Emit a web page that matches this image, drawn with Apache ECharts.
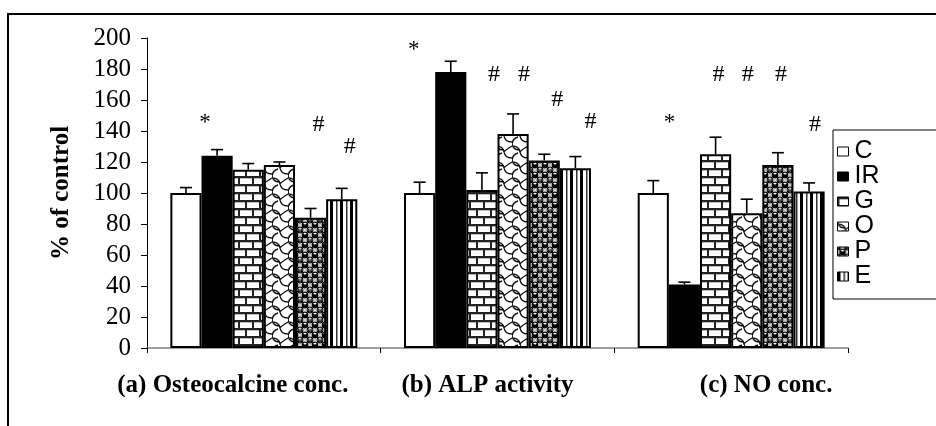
<!DOCTYPE html>
<html>
<head>
<meta charset="utf-8">
<script src="https://cdn.jsdelivr.net/npm/echarts@6/dist/echarts.min.js"></script>
<style>
html,body{margin:0;padding:0;background:#fff;}
#chart{width:936px;height:426px;}
</style>
</head>
<body>
<div id="chart"></div>
<script>
// ---- data ----
const categories = ['(a) Osteocalcine conc.', '(b) ALP activity', '(c) NO conc.'];
const seriesNames = ['C', 'IR', 'G', 'O', 'P', 'E'];
const valC  = [100, 100, 100];
const valIR = [124, 178, 41];
const valG  = [115, 102, 125];
const valO  = [118, 138, 87];
const valP  = [84, 121, 118];
const valE  = [96, 116, 101];
const errC  = [3.5, 7, 8];
const errIR = [4, 7, 1.5];
const errG  = [4, 11, 11];
const errO  = [2, 13, 9];
const errP  = [6, 4, 8];
const errE  = [7, 7.5, 5.5];
// significance signs and the value height at which each sign sits
const signC  = ['', '', ''];
const signIR = ['*', '*', '*'];
const signG  = ['', '#', '#'];
const signO  = ['', '#', '#'];
const signP  = ['#', '#', '#'];
const signE  = ['#', '#', '#'];
const signAtC  = [0, 0, 0];
const signAtIR = [145, 192, 145];
const signAtG  = [0, 176, 176];
const signAtO  = [0, 176, 176];
const signAtP  = [144, 160, 176];
const signAtE  = [130, 146, 144];
const yTicks = { min: 0, max: 200, step: 20 };

const values = [valC, valIR, valG, valO, valP, valE];
const errors = [errC, errIR, errG, errO, errP, errE];
const signs = [signC, signIR, signG, signO, signP, signE];
const signAt = [signAtC, signAtIR, signAtG, signAtO, signAtP, signAtE];

// ---- styling (layout nudges for sign labels, px) ----
const signDx = [[0,0,0], [-12,-37,-15], [0,12,3], [0,11,1], [8,13,3], [8,15,6]];

function tile(w, h, draw) {
  const c = document.createElement('canvas');
  c.width = w; c.height = h;
  const g = c.getContext('2d');
  g.fillStyle = '#fff'; g.fillRect(0, 0, w, h);
  draw(g);
  return c;
}
const brick = tile(14, 16, g => {
  g.fillStyle = '#222';
  g.fillRect(0, 0, 14, 2); g.fillRect(0, 8, 14, 2);
  g.fillRect(0, 0, 2, 8); g.fillRect(7, 8, 2, 8);
  g.fillStyle = '#bbb';
  g.fillRect(2, 2, 12, 1); g.fillRect(0, 10, 7, 1); g.fillRect(9, 10, 5, 1);
});
const scale = tile(16, 16, g => {
  g.strokeStyle = '#111'; g.lineWidth = 1.4;
  g.beginPath();
  g.moveTo(0, 2); g.quadraticCurveTo(7, 2, 8, 8); g.quadraticCurveTo(9, 14, 16, 14);
  g.moveTo(8, -6); g.quadraticCurveTo(15, -6, 16, 0);
  g.moveTo(0, 0); g.quadraticCurveTo(1, 6, 8, 6);
  g.moveTo(8, 8); g.quadraticCurveTo(9, 6, 16, 2);
  g.moveTo(0, 16); g.quadraticCurveTo(1, 10, 6, 9);
  g.stroke();
});
const dots = tile(10, 10, g => {
  g.fillStyle = '#000';
  [[5,5],[0,0],[10,0],[0,10],[10,10]].forEach(p => { g.beginPath(); g.arc(p[0], p[1], 3.4, 0, Math.PI*2); g.fill(); });
  g.fillStyle = '#fff';
  [[5,3.6],[0,-1.4],[10,-1.4],[0,8.6],[10,8.6]].forEach(p => { g.beginPath(); g.ellipse(p[0], p[1], 1.6, 0.9, 0, 0, Math.PI*2); g.fill(); });
  g.strokeStyle = '#888'; g.lineWidth = 0.8;
  g.strokeRect(0, 0, 10, 10);
});
const stripes = tile(10, 2, g => {
  g.fillStyle = '#000'; g.fillRect(0, 0, 3, 2);
  g.fillStyle = '#333'; g.fillRect(6, 0, 1.5, 2);
});
const fills = [
  '#ffffff',
  '#000000',
  { image: brick, repeat: 'repeat' },
  { image: scale, repeat: 'repeat' },
  { image: dots, repeat: 'repeat' },
  { image: stripes, repeat: 'repeat' }
];

const barSeries = seriesNames.map((n, s) => ({
  name: n,
  type: 'bar',
  data: values[s],
  barGap: '0%',
  barCategoryGap: '20%',
  itemStyle: { color: fills[s], borderColor: '#000', borderWidth: 2 },
  emphasis: { disabled: true },
  z: 2
}));

const errRows = [];
for (let s = 0; s < seriesNames.length; s++) {
  for (let i = 0; i < categories.length; i++) {
    errRows.push([i, s, values[s][i], errors[s][i], signAt[s][i]]);
  }
}

const errSeries = {
  type: 'custom',
  name: 'err',
  data: errRows,
  encode: { x: 0, y: 2 },
  z: 5,
  silent: true,
  renderItem: function (params, api) {
    const i = api.value(0), s = api.value(1), v = api.value(2), e = api.value(3), h = api.value(4);
    const band = api.size([1, 0])[0];
    const bw = band * 0.8 / 6;
    const cx = api.coord([i, 0])[0] - band * 0.4 + (s + 0.5) * bw;
    const y0 = api.coord([i, v])[1];
    const y1 = api.coord([i, v + e])[1];
    const st = { stroke: '#000', lineWidth: 1.6 };
    const children = [
      { type: 'line', shape: { x1: cx, y1: y0, x2: cx, y2: y1 }, style: st },
      { type: 'line', shape: { x1: cx - 6, y1: y1, x2: cx + 6, y2: y1 }, style: st }
    ];
    const sign = signs[s][i];
    if (sign) {
      const ty = api.coord([i, h])[1];
      children.push({
        type: 'text', x: cx + signDx[s][i], y: ty,
        style: { text: sign, fontFamily: 'Liberation Serif', fontSize: sign === '#' ? 24 : 23, fill: '#000', align: 'center', verticalAlign: 'middle' }
      });
    }
    return { type: 'group', children: children };
  }
};

const labelFont = { fontFamily: 'Liberation Serif', fontWeight: 'bold', fontSize: 25, color: '#000' };

const option = {
  animation: false,
  backgroundColor: '#fff',
  graphic: [{
    type: 'rect', shape: { x: 8, y: 14, width: 1000, height: 1000 },
    style: { fill: 'none', stroke: '#000', lineWidth: 2 }, z: 0
  }],
  grid: { left: 147, right: 88, top: 38, bottom: 78, containLabel: false },
  legend: {
    data: seriesNames,
    orient: 'vertical',
    left: 833, top: 130,
    icon: 'rect',
    itemWidth: 11, itemHeight: 9,
    itemGap: 0,
    padding: [9, 60, 10, 4],
    borderColor: '#000', borderWidth: 1,
    itemStyle: { borderColor: '#000', borderWidth: 1 },
    textStyle: { fontFamily: 'Liberation Sans', fontSize: 25, lineHeight: 23, color: '#000', padding: [0, 0, 0, 1] },
    selectedMode: false
  },
  xAxis: {
    type: 'category',
    data: categories,
    axisLine: { lineStyle: { color: '#808080', width: 1.5 } },
    axisTick: { show: true, length: 5, lineStyle: { color: '#000' } },
    axisLabel: {
      margin: 25,
      formatter: (v, idx) => '{s' + idx + '|' + v + '}',
      rich: {
        s0: Object.assign({ padding: [0, 62, 0, 0] }, labelFont),
        s1: Object.assign({ padding: [0, 20, 0, 0] }, labelFont),
        s2: Object.assign({ padding: [0, 0, 0, 70] }, labelFont)
      }
    }
  },
  yAxis: {
    type: 'value',
    min: yTicks.min, max: yTicks.max, interval: yTicks.step,
    name: '% of control',
    nameLocation: 'middle',
    nameGap: 73,
    nameRotate: 90,
    nameTextStyle: { fontFamily: 'Liberation Serif', fontWeight: 'bold', fontSize: 25, color: '#000' },
    axisLine: { show: true, lineStyle: { color: '#000', width: 1 } },
    axisTick: { show: true, length: 6, lineStyle: { color: '#000' } },
    splitLine: { show: false },
    axisLabel: { margin: 16, fontFamily: 'Liberation Serif', fontSize: 25, color: '#000' }
  },
  series: barSeries.concat([errSeries])
};

const chart = echarts.init(document.getElementById('chart'));
chart.setOption(option);
</script>
</body>
</html>
